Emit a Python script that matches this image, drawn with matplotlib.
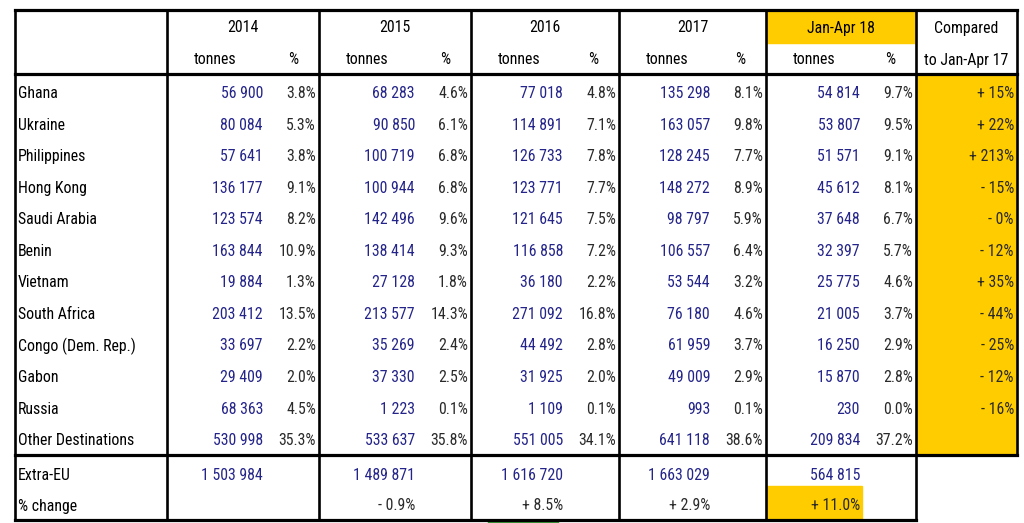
import matplotlib.pyplot as plt
from matplotlib.patches import Rectangle
from matplotlib import font_manager

countries = ["Ghana", "Ukraine", "Philippines", "Hong Kong", "Saudi Arabia", "Benin",
             "Vietnam", "South Africa", "Congo (Dem. Rep.)", "Gabon", "Russia",
             "Other Destinations"]
periods = ["2014", "2015", "2016", "2017", "Jan-Apr 18"]

t2014 = [56900, 80084, 57641, 136177, 123574, 163844, 19884, 203412, 33697, 29409, 68363, 530998]
p2014 = [3.8, 5.3, 3.8, 9.1, 8.2, 10.9, 1.3, 13.5, 2.2, 2.0, 4.5, 35.3]
t2015 = [68283, 90850, 100719, 100944, 142496, 138414, 27128, 213577, 35269, 37330, 1223, 533637]
p2015 = [4.6, 6.1, 6.8, 6.8, 9.6, 9.3, 1.8, 14.3, 2.4, 2.5, 0.1, 35.8]
t2016 = [77018, 114891, 126733, 123771, 121645, 116858, 36180, 271092, 44492, 31925, 1109, 551005]
p2016 = [4.8, 7.1, 7.8, 7.7, 7.5, 7.2, 2.2, 16.8, 2.8, 2.0, 0.1, 34.1]
t2017 = [135298, 163057, 128245, 148272, 98797, 106557, 53544, 76180, 61959, 49009, 993, 641118]
p2017 = [8.1, 9.8, 7.7, 8.9, 5.9, 6.4, 3.2, 4.6, 3.7, 2.9, 0.1, 38.6]
t2018 = [54814, 53807, 51571, 45612, 37648, 32397, 25775, 21005, 16250, 15870, 230, 209834]
p2018 = [9.7, 9.5, 9.1, 8.1, 6.7, 5.7, 4.6, 3.7, 2.9, 2.8, 0.0, 37.2]
compared = ["+ 15%", "+ 22%", "+ 213%", "- 15%", "- 0%", "- 12%", "+ 35%", "- 44%",
            "- 25%", "- 12%", "- 16%", ""]
extra_eu = [1503984, 1489871, 1616720, 1663029, 564815]
pct_change = ["", "- 0.9%", "+ 8.5%", "+ 2.9%", "+ 11.0%"]

tonnes = [t2014, t2015, t2016, t2017, t2018]
shares = [p2014, p2015, p2016, p2017, p2018]

# layout (pixels)
col_edges = [15, 167, 319, 471, 619, 766, 916, 1017]
y_top, y_head, y_sum, y_bot = 9.5, 73.5, 454.5, 519.5
row0, row_step = 93.5, 31.55
YELLOW = "#FFCC00"
NAVY = "#24248A"
GREY = "#2A2A2A"

# narrow sans-serif, closest to Arial Narrow that is installed
names = {f.name for f in font_manager.fontManager.ttflist}
family = "Liberation Sans"
for cand in ["Liberation Sans Narrow", "Arial Narrow", "Roboto Condensed", "Archivo Narrow",
             "PT Sans Narrow", "Pragati Narrow", "Open Sans Condensed"]:
    if cand in names:
        family = cand
        break
plt.rcParams["font.family"] = family


def fmt(v):
    return f"{v:,}".replace(",", " ")


fig = plt.figure(figsize=(10.24, 5.23), dpi=100)
ax = fig.add_axes([0, 0, 1, 1])
ax.set_xlim(0, 1024)
ax.set_ylim(523, 0)
ax.axis("off")

# size the font so "Other Destinations" is about 115 px wide, as in the reference
renderer = fig.canvas.get_renderer()
probe = ax.text(0, 0, "Other Destinations", fontsize=12)
w = probe.get_window_extent(renderer).width
probe.remove()
FS = 12 * 116 / w

# yellow highlights
ax.add_patch(Rectangle((col_edges[5], y_top), col_edges[6] - col_edges[5], 33,
                       color=YELLOW, zorder=1))
ax.add_patch(Rectangle((col_edges[6], y_head), col_edges[7] - col_edges[6], y_sum - y_head,
                       color=YELLOW, zorder=1))
ax.add_patch(Rectangle((col_edges[5], 486), 96, y_bot - 486, color=YELLOW, zorder=1))
ax.add_patch(Rectangle((488, 520.5), 70, 3, color="#3a9a3a", zorder=1))

# grid lines
lw_h, lw_v = 2.3, 1.9
for y in (y_top, y_head, y_sum):
    ax.plot([col_edges[0], col_edges[-1]], [y, y], color="black", lw=lw_h, zorder=3,
            solid_capstyle="projecting")
ax.plot([col_edges[0], col_edges[-2]], [y_bot, y_bot], color="black", lw=lw_h, zorder=3,
        solid_capstyle="projecting")
for x in col_edges[:-1]:
    ax.plot([x, x], [y_top, y_bot], color="black", lw=lw_v, zorder=3)
ax.plot([col_edges[-1], col_edges[-1]], [y_top, y_sum], color="black", lw=lw_v, zorder=3)

# header
for i, p in enumerate(periods):
    left, right = col_edges[i + 1], col_edges[i + 2]
    ax.text((left + right) / 2, 28, p, ha="center", va="center", fontsize=FS, zorder=4)
    ax.text(left + 48, 60, "tonnes", ha="center", va="center", fontsize=FS, zorder=4)
    ax.text(right - 26, 60, "%", ha="center", va="center", fontsize=FS, zorder=4)
cx = (col_edges[6] + col_edges[7]) / 2
ax.text(cx, 28, "Compared", ha="center", va="center", fontsize=FS, zorder=4)
ax.text(cx, 60, "to Jan-Apr 17", ha="center", va="center", fontsize=FS, zorder=4)

# body
for r, name in enumerate(countries):
    y = row0 + r * row_step
    ax.text(18, y, name, ha="left", va="center", fontsize=FS, zorder=4)
    for i in range(len(periods)):
        right = col_edges[i + 2]
        ax.text(right - 56, y, fmt(tonnes[i][r]), ha="right", va="center",
                fontsize=FS, color=NAVY, zorder=4)
        ax.text(right - 3, y, f"{shares[i][r]:.1f}%", ha="right", va="center",
                fontsize=FS, color=GREY, zorder=4)
    ax.text(col_edges[7] - 3, y, compared[r], ha="right", va="center", fontsize=FS,
            color=GREY, zorder=4)

# summary rows
ax.text(18, 475, "Extra-EU", ha="left", va="center", fontsize=FS, zorder=4)
ax.text(18, 506, "% change", ha="left", va="center", fontsize=FS, zorder=4)
for i in range(len(periods)):
    right = col_edges[i + 2]
    ax.text(right - 56, 475, fmt(extra_eu[i]), ha="right", va="center", fontsize=FS,
            color=NAVY, zorder=4)
    ax.text(right - 56, 506, pct_change[i], ha="right", va="center", fontsize=FS,
            color=GREY, zorder=4)

fig.savefig("out.png", dpi=100)
